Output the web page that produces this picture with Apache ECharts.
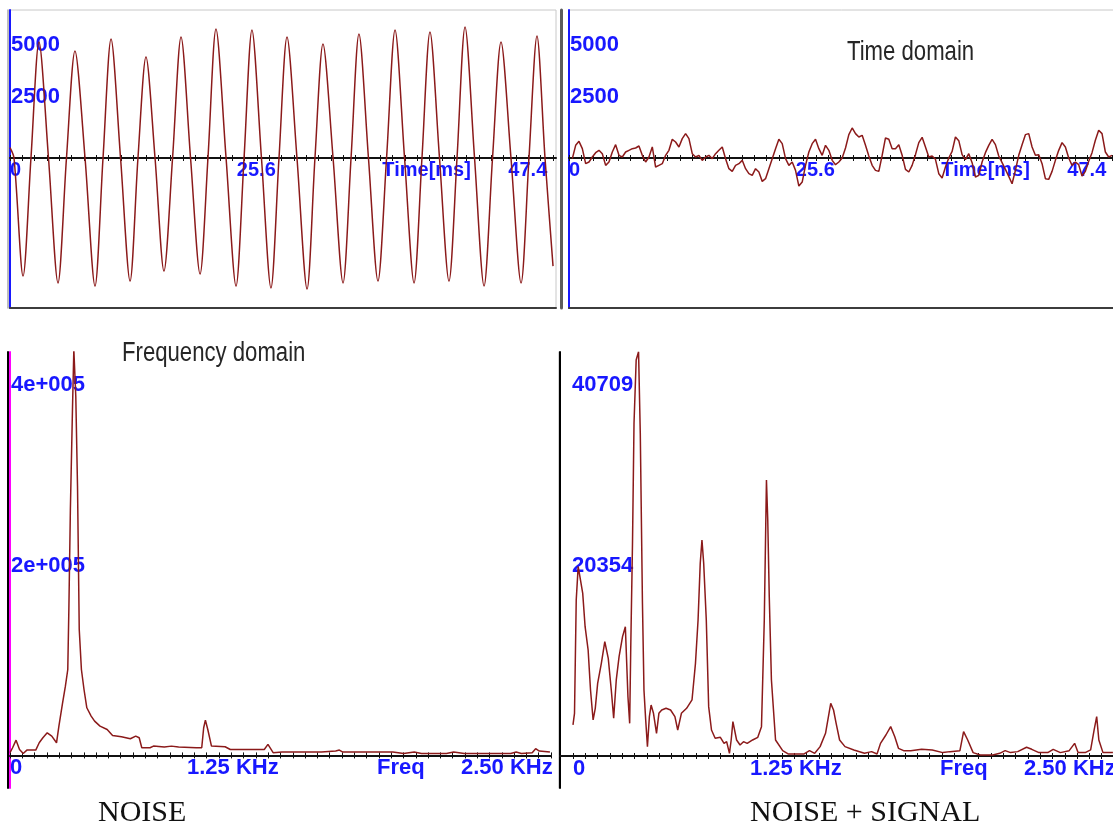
<!DOCTYPE html>
<html>
<head>
<meta charset="utf-8">
<title>Noise / Noise + Signal</title>
<script src="https://cdn.jsdelivr.net/npm/echarts@6/dist/echarts.min.js"></script>
<style>
  html, body { margin: 0; padding: 0; background: #fff; }
  #chart { width: 1113px; height: 825px; }
</style>
</head>
<body>
<div id="chart"></div>
<script>
// ---- values ----

// top left: noise in the time domain (ms, amplitude) - peaks, troughs and zero crossings
const noiseTimeMs = [0, 0.35, 1.14, 1.83, 2.53, 3.36, 4.19, 4.93, 5.67, 6.55, 7.42, 8.12, 8.82, 9.65, 10.48, 11.17,
  11.87, 12.66, 13.44, 14.19, 14.93, 15.76, 16.59, 17.28, 17.98, 18.86, 19.73, 20.43, 21.12, 21.95, 22.78, 23.48,
  24.18, 25.05, 25.93, 26.62, 27.32, 28.20, 29.07, 29.77, 30.46, 31.29, 32.12, 32.87, 33.61, 34.44, 35.27, 35.96,
  36.66, 37.49, 38.32, 39.02, 39.72, 40.55, 41.38, 42.12, 42.86, 43.73, 44.61, 45.30, 46.00, 46.70, 47.40];
const noiseTime = [500, 0, -5660, 0, 5560, 0, -5990, 0, 5130, 0, -6140, 0, 5700, 0, -5900, 0,
  4840, 0, -5420, 0, 5800, 0, -5560, 0, 6180, 0, -6140, 0, 6140, 0, -6230, 0,
  5800, 0, -6280, 0, 5460, 0, -5990, 0, 5940, 0, -5900, 0, 6140, 0, -5990, 0,
  6040, 0, -5900, 0, 6280, 0, -6140, 0, 5560, 0, -5990, 0, 5850, 0, -5180];

// top right: noise + signal, 163 even samples over 47.4 ms
const mixedTime = [-32, 608, 800, 448, -272, -192, 48, 256, 368, 208, -352, -192, 288, 640, 128, 48, 288, 368, 448, 480,
  576, 128, -192, 48, 528, -432, -352, -272, 128, 368, 896, 768, 528, 928, 1168, 928, 208, 48, 128, -112,
  48, 128, -32, 208, 368, 528, -32, -512, -640, -352, -272, -112, -512, -752, -832, -512, -672, -1120, -992, -512,
  -32, 448, 896, 688, -32, -352, -192, -592, -1344, -1152, -352, 288, 688, 896, 448, 128, 608, 368, -112,
  -320, -192, 0, 480, 1120, 1440, 1168, 1008, 1088, 608, 96, -352, -592, -640, 128, 960, 896, 448, 448, 640,
  128, -544, -672, -352, 160, 736, 992, 528, 48, 96, -64, -752, -960, -432, 0, 320, 1008, 832, 160, -80,
  208, -224, -912, -832, -192, 256, 608, 896, 640, 96, -224, -544, -880, -1232, -592, 128, 640, 1120, 1168, 528,
  128, 160, -272, -992, -1024, -640, -112, 368, 736, 528, 0, -352, -192, -320, -864, -640, -160, 256, 848, 1328,
  1168, 288, 48, 128];
const mixedSpanMs = 47.4;

// bottom left: noise spectrum (Hz, magnitude)
const noiseFreqHz = [0, 12, 28, 44, 61, 78, 119, 135, 152, 172, 193, 215, 226, 243, 256, 267, 272, 279, 289, 295,
  304, 312, 320, 330, 342, 355, 375, 391, 416, 449, 474, 515, 556, 581, 597, 609, 647, 663, 713, 746,
  779, 861, 886, 895, 903, 914, 931, 994, 1018, 1109, 1175, 1192, 1201, 1216, 1257, 1439, 1505, 1522, 1538, 1769,
  1819, 1868, 1901, 2017, 2050, 2099, 2314, 2339, 2363, 2413, 2429, 2446, 2495];
const noiseSpec = [3000, 8500, 16900, 6600, 2200, 5900, 5900, 14000, 19500, 25000, 21400, 14000, 32400, 58200, 76600, 95000, 161300, 271800, 386000, 448600,
  397000, 297600, 139200, 95000, 72900, 52700, 43500, 37900, 32400, 28700, 22100, 20600, 18400, 21400, 19500, 8500, 8500, 10300, 9200, 10300,
  9200, 8500, 8500, 30600, 39000, 28700, 10300, 9600, 6600, 6600, 6600, 12200, 14000, 3000, 3700, 3700, 4800, 5900, 3700, 3700,
  2200, 3700, 2200, 2200, 3700, 2200, 2200, 3700, 2200, 3000, 7400, 4800, 3700];

// bottom right: noise + signal spectrum
const mixedFreqHz = [0, 7, 15, 24, 32, 45, 56, 70, 81, 93, 103, 114, 131, 147, 163, 177, 188, 200, 213, 229,
  242, 254, 262, 267, 275, 282, 292, 303, 311, 321, 328, 336, 344, 353, 361, 372, 386, 397, 410, 430,
  451, 471, 484, 501, 525, 550, 566, 578, 588, 596, 604, 616, 627, 640, 657, 681, 698, 710, 723, 731,
  739, 756, 772, 788, 805, 830, 854, 871, 884, 894, 900, 907, 917, 936, 969, 994, 1068, 1093, 1117, 1142,
  1167, 1183, 1191, 1204, 1216, 1232, 1257, 1298, 1347, 1380, 1405, 1421, 1446, 1468, 1487, 1504, 1528, 1561, 1611, 1660,
  1709, 1742, 1788, 1805, 1824, 1849, 1882, 1940, 1972, 1997, 2022, 2055, 2096, 2120, 2153, 2194, 2219, 2252, 2293, 2318,
  2334, 2367, 2392, 2408, 2420, 2430, 2449, 2495];
const mixedSpec = [3490, 4800, 17540, 21290, 20160, 18290, 14540, 11920, 7420, 4050, 5360, 8170, 10420, 12860, 10980, 7420, 4240, 8550, 11170, 13420,
  14540, 6670, 3670, 12290, 23910, 37400, 44530, 45460, 36280, 17170, 7420, 4050, 1050, 4420, 5730, 4800, 2550, 4800, 5170, 5360,
  5170, 4420, 2920, 4800, 5360, 6300, 10420, 15290, 21660, 24290, 21660, 15290, 5550, 2920, 1990, 2100, 1420, 1610, 300, 1800,
  3860, 1800, 1240, 1610, 1420, 1800, 2100, 3300, 15290, 31030, 26540, 17920, 8550, 1800, 600, 230, 230, 600, 300, 1050,
  2550, 4800, 5920, 5170, 3670, 1800, 1050, 680, 300, 490, 230, 1420, 2360, 3300, 2170, 860, 600, 600, 750, 680,
  380, 490, 600, 2740, 1800, 380, 110, 110, 300, 600, 380, 490, 980, 750, 380, 380, 750, 380, 600, 1420,
  380, 380, 680, 2920, 4420, 1800, 380, 380];

// axis texts, as printed (they sit where the scope program put them)
const timeLabels = ['0', '25.6', 'Time[ms]', '47.4'];
const timeLabelAt = [0, 19.8, 32.5, 43.5];
const freqLabels = ['0', '1.25 KHz', 'Freq', '2.50 KHz'];
const freqLabelAt = [0, 818, 1696, 2084];
const timeYTicks = [2500, 5000];
const timeYText = ['2500', '5000'];
const noiseSpecTicks = [200000, 400000];
const noiseSpecText = ['2e+005', '4e+005'];
const mixedSpecTicks = [20354, 40709];
const mixedSpecText = ['20354', '40709'];

// ---- layout / style ----
const BLUE = '#1818ff';
const WAVE = '#8b1a1a';
const INK = '#111';
const LABEL_FONT = "'Liberation Sans', Arial, sans-serif";

const timeRange = [0, 47.66];
const freqRange = [0, 2500];
const freqRangeRight = [-60, 2500];
const timeY = [-7190, 7095];
const noiseSpecY = [-36000, 446000];
const mixedSpecY = [-3600, 45430];

const timeTicks = [];
for (let k = 0; k <= 44; k++) timeTicks.push(+(k * 47.4 / 44).toFixed(3));
const freqTicks = [];
for (let k = 0; k <= 44; k++) freqTicks.push(+(k * 2500 / 44).toFixed(2));

const grid = [
  { left: 10, top: 10, width: 546, height: 298, show: true, borderColor: '#c8c8c8', borderWidth: 1 },
  { left: 569, top: 10, width: 546, height: 298, show: true, borderColor: '#c8c8c8', borderWidth: 1 },
  { left: 10, top: 352, width: 541, height: 436, show: false },
  { left: 560, top: 352, width: 554, height: 436, show: false }
].map(g => Object.assign({ containLabel: false, outerBoundsMode: 'none' }, g));

const xAxis = [];
const yAxis = [];

// x axis drawn on the zero line: line + ticks through it + labels
function addXAxes(gi, range, yRange, at, texts, size, frameColor) {
  const off = -grid[gi].height * (0 - yRange[0]) / (yRange[1] - yRange[0]);
  const ticks = range[1] > 100 ? freqTicks : timeTicks;
  const base = { type: 'value', gridIndex: gi, min: range[0], max: range[1], position: 'bottom', splitLine: { show: false } };
  const first = xAxis.length;
  xAxis.push(Object.assign({}, base, {
    offset: off,
    axisLine: { show: true, onZero: false, lineStyle: { color: INK, width: 2 } },
    axisTick: { show: true, customValues: ticks, length: 3, lineStyle: { color: INK, width: 1 } },
    axisLabel: {
      show: true, customValues: at, formatter: v => texts[at.indexOf(v)],
      margin: 2, align: 'left', color: BLUE, fontFamily: LABEL_FONT, fontWeight: 'bold', fontSize: size
    }
  }));
  xAxis.push(Object.assign({}, base, {
    offset: off,
    axisLine: { show: false, onZero: false },
    axisTick: { show: true, inside: true, customValues: ticks, length: 3, lineStyle: { color: INK, width: 1 } },
    axisLabel: { show: false }
  }));
  if (frameColor) {
    xAxis.push(Object.assign({}, base, {
      axisLine: { show: true, onZero: false, lineStyle: { color: frameColor, width: 2 } },
      axisTick: { show: false }, axisLabel: { show: false }
    }));
  }
  return first;
}

function addYAxes(gi, range, lineColor, ticks, texts, size, margin, frames) {
  const first = yAxis.length;
  yAxis.push({
    type: 'value', gridIndex: gi, min: range[0], max: range[1], position: 'left',
    axisLine: { show: true, onZero: false, lineStyle: { color: lineColor, width: 2 } },
    axisTick: { show: false }, splitLine: { show: false },
    axisLabel: {
      inside: true, margin: margin, customValues: ticks, formatter: v => texts[ticks.indexOf(v)],
      verticalAlign: 'bottom', align: 'left', lineHeight: 18,
      color: BLUE, fontFamily: LABEL_FONT, fontWeight: 'bold', fontSize: size
    }
  });
  frames.forEach(f => yAxis.push({
    type: 'value', gridIndex: gi, min: range[0], max: range[1], position: f.position || 'left', offset: f.offset,
    axisLine: { show: true, onZero: false, lineStyle: { color: f.color, width: f.width } },
    axisTick: { show: false }, axisLabel: { show: false }, splitLine: { show: false }
  }));
  return first;
}

const x0 = addXAxes(0, timeRange, timeY, timeLabelAt, timeLabels, 20, '#3c3c3c');
const y0 = addYAxes(0, timeY, BLUE, timeYTicks, timeYText, 22, 1, [{ offset: 2, color: '#a8a8a8', width: 1.5 }]);
const x1 = addXAxes(1, timeRange, timeY, timeLabelAt, timeLabels, 20, '#3c3c3c');
const y1 = addYAxes(1, timeY, BLUE, timeYTicks, timeYText, 22, 1, [{ offset: 8, color: '#5c5c5c', width: 3 }]);
const x2 = addXAxes(2, freqRange, noiseSpecY, freqLabelAt, freqLabels, 22, null);
const y2 = addYAxes(2, noiseSpecY, '#ff00ff', noiseSpecTicks, noiseSpecText, 22, 1,
  [{ offset: 2, color: '#000', width: 2 }, { position: 'right', offset: 7, color: '#d4d4d4', width: 1 }]);
const x3 = addXAxes(3, freqRangeRight, mixedSpecY, freqLabelAt, freqLabels, 22, null);
const y3 = addYAxes(3, mixedSpecY, '#000', mixedSpecTicks, mixedSpecText, 22, 12, []);

function lineSeries(xi, yi, data, smooth) {
  return {
    type: 'line', xAxisIndex: xi, yAxisIndex: yi, data: data, smooth: smooth,
    symbol: 'none', showSymbol: false, clip: true, z: 3,
    lineStyle: { color: WAVE, width: 1.5 }
  };
}

// the panel captions use a narrow face; squeeze Liberation Sans to match
function caption(text, x, y) {
  return {
    type: 'text', x: x, y: y, scaleX: 0.82, z: 10,
    style: { text: text, fontFamily: LABEL_FONT, fontSize: 27, fill: '#262626', verticalAlign: 'top', align: 'left' }
  };
}
const serifTitle = { fontFamily: "'Liberation Serif', 'Times New Roman', serif", fontSize: 30, fontWeight: 'normal', color: '#111' };

const chart = echarts.init(document.getElementById('chart'));
chart.setOption({
  animation: false,
  backgroundColor: '#fff',
  title: [
    { text: 'NOISE', left: 98, top: 798, padding: 0, textStyle: serifTitle },
    { text: 'NOISE + SIGNAL', left: 750, top: 798, padding: 0, textStyle: serifTitle }
  ],
  graphic: [
    caption('Time domain', 847, 39),
    caption('Frequency domain', 122, 340)
  ],
  grid: grid,
  xAxis: xAxis,
  yAxis: yAxis,
  series: [
    lineSeries(x0, y0, noiseTimeMs.map((t, i) => [t, noiseTime[i]]), 0.3),
    lineSeries(x1, y1, mixedTime.map((v, i) => [(i + 1) * mixedSpanMs / mixedTime.length, v]), false),
    lineSeries(x2, y2, noiseFreqHz.map((f, i) => [f, noiseSpec[i]]), false),
    lineSeries(x3, y3, mixedFreqHz.map((f, i) => [f, mixedSpec[i]]), false)
  ]
});
</script>
</body>
</html>
